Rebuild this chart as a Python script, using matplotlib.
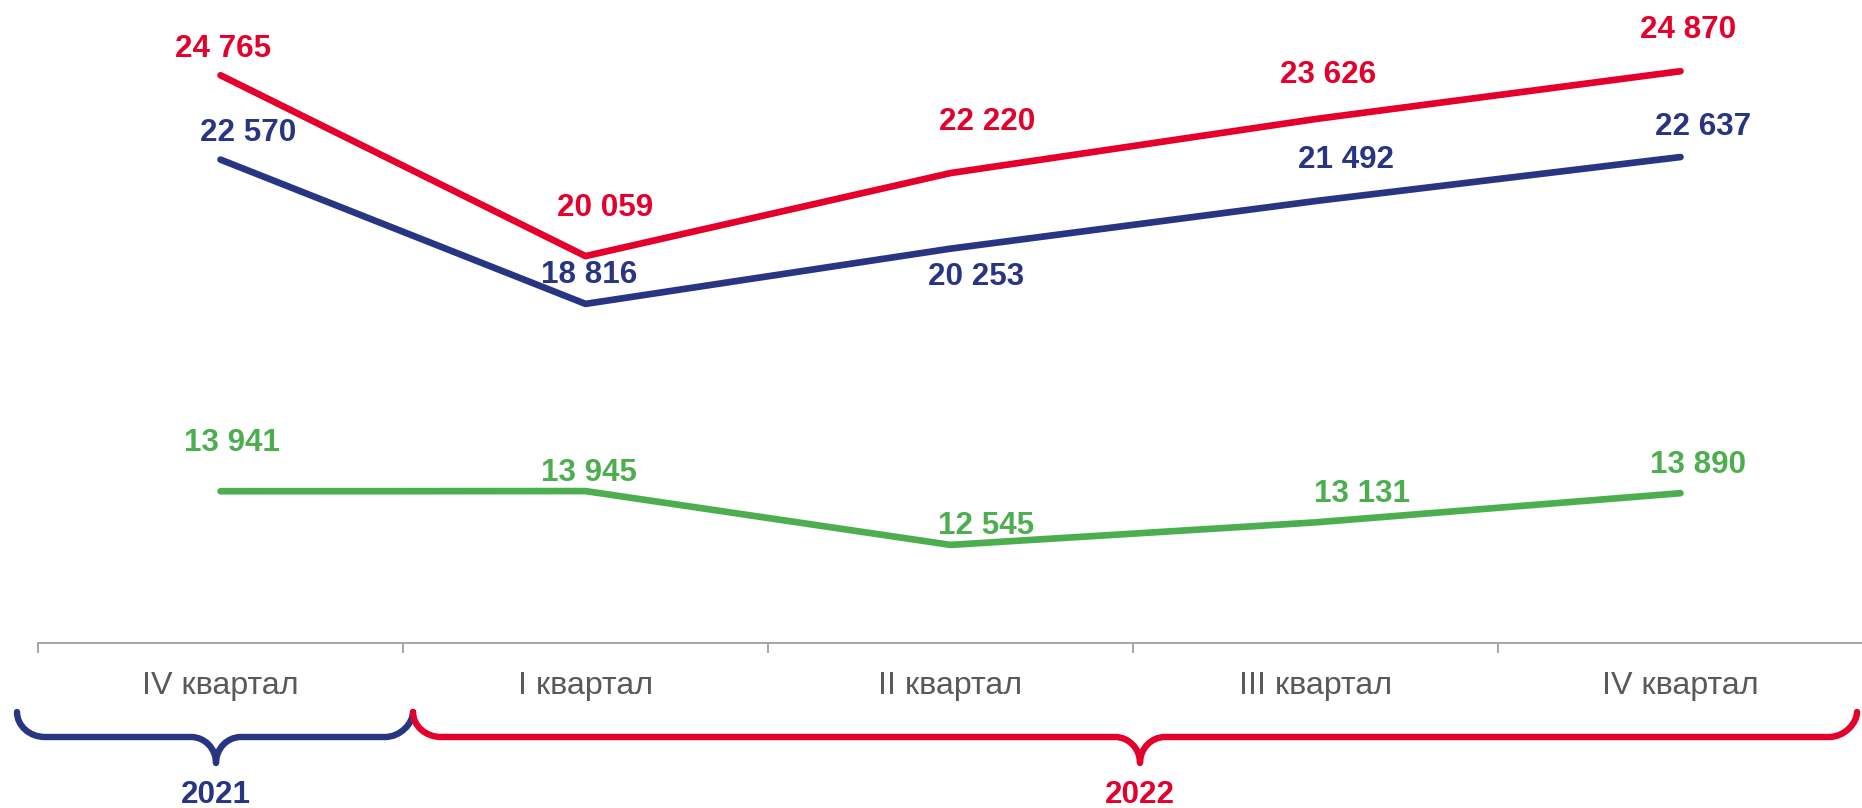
import matplotlib
matplotlib.use("Agg")
import matplotlib.pyplot as plt
from matplotlib.path import Path
from matplotlib.patches import PathPatch
from matplotlib.transforms import Affine2D

# ---- data ----
categories = ["IV квартал", "I квартал", "II квартал", "III квартал", "IV квартал"]
red_values = [24765, 20059, 22220, 23626, 24870]
blue_values = [22570, 18816, 20253, 21492, 22637]
green_values = [13941, 13945, 12545, 13131, 13890]
year_labels = ["2021", "2022"]

# ---- styles ----
RED = "#E4002B"
BLUE = "#283583"
GREEN = "#4DAE4F"
GREY_TXT = "#595959"
GREY_AX = "#A6A6A6"
FONT = "Liberation Sans"
LABEL_SIZE = 22.6
TICK_SIZE = 23.2

# label offsets in pixels (dx right, dy down) of cap-centre relative to point
red_off = [(3, -29), (20, -51), (37, -54), (13, -47), (8, -44)]
blue_off = [(28, -30), (4, -32), (26, 25), (31, -44), (23, -33)]
green_off = [(11, -51), (3, -21), (36, -22), (47, -32), (17, -31)]

W, H = 1862, 808
fig = plt.figure(figsize=(W / 100, H / 100), dpi=100)
ax = fig.add_axes([38 / W, 1 - 642.7 / H, 1825 / W, (642.7 - 27.8) / H])

x = list(range(len(categories)))
lw = 4.8
half_cap = 0.716 * LABEL_SIZE / 0.72 / 2
for vals, col, offs in [(red_values, RED, red_off), (blue_values, BLUE, blue_off),
                        (green_values, GREEN, green_off)]:
    ax.plot(x, vals, color=col, lw=lw, solid_capstyle="round",
            solid_joinstyle="round", clip_on=False, zorder=3)
    for xi, v, (dx, dy) in zip(x, vals, offs):
        ax.annotate(f"{v:,}".replace(",", " "), (xi, v), xytext=(dx, -(dy + half_cap)),
                    textcoords="offset pixels", ha="center", va="baseline",
                    color=col, fontsize=LABEL_SIZE, fontweight="bold", family=FONT,
                    annotation_clip=False)

ax.set_xlim(-0.5, len(categories) - 0.5)
ax.set_ylim(10000, 26000)
for s in ["top", "right", "left"]:
    ax.spines[s].set_visible(False)
ax.spines["bottom"].set_color(GREY_AX)
ax.spines["bottom"].set_linewidth(1.4)
ax.set_yticks([])
ax.set_xticks([i - 0.5 for i in range(len(categories) + 1)])
ax.set_xticklabels([])
ax.set_xticks(x, minor=True)
ax.set_xticklabels(categories, minor=True)
ax.tick_params(axis="x", which="major", length=7.2, width=1.4, color=GREY_AX,
               direction="out")
ax.tick_params(axis="x", which="minor", length=0, pad=20.6, labelsize=TICK_SIZE,
               labelcolor=GREY_TXT)
for lab in ax.get_xticklabels(minor=True):
    lab.set_family(FONT)

# ---- braces (figure pixel coordinates) ----
pix = Affine2D().scale(1 / W, -1 / H).translate(0, 1) + fig.transFigure


def brace(x0, x1, xt, ytop, ymid, ytip, r=28, a=25, k=0.5523):
    verts = [(x0, ytop),
             (x0, ytop + k * (ymid - ytop)), (x0 + r - k * r, ymid), (x0 + r, ymid),
             (xt - a, ymid),
             (xt - a + k * a, ymid), (xt, ytip - k * (ytip - ymid)), (xt, ytip),
             (xt, ytip - k * (ytip - ymid)), (xt + a - k * a, ymid), (xt + a, ymid),
             (x1 - r, ymid),
             (x1 - r + k * r, ymid), (x1, ymid - k * (ymid - ytop)), (x1, ytop)]
    codes = [Path.MOVETO,
             Path.CURVE4, Path.CURVE4, Path.CURVE4,
             Path.LINETO,
             Path.CURVE4, Path.CURVE4, Path.CURVE4,
             Path.CURVE4, Path.CURVE4, Path.CURVE4,
             Path.LINETO,
             Path.CURVE4, Path.CURVE4, Path.CURVE4]
    return Path(verts, codes)


for (x0, x1, xt), col, lab in [((17, 413, 216), BLUE, year_labels[0]),
                                ((413, 1857, 1140), RED, year_labels[1])]:
    p = PathPatch(brace(x0, x1, xt, 712, 737, 763), fill=False, edgecolor=col,
                  lw=4.6, capstyle="round", joinstyle="round", transform=pix)
    fig.add_artist(p)
    fig.text(xt / W, 1 - 803 / H, lab, ha="center", va="baseline", color=col,
             fontsize=LABEL_SIZE, fontweight="bold", family=FONT)

fig.savefig("out.png", dpi=100, facecolor="white")
